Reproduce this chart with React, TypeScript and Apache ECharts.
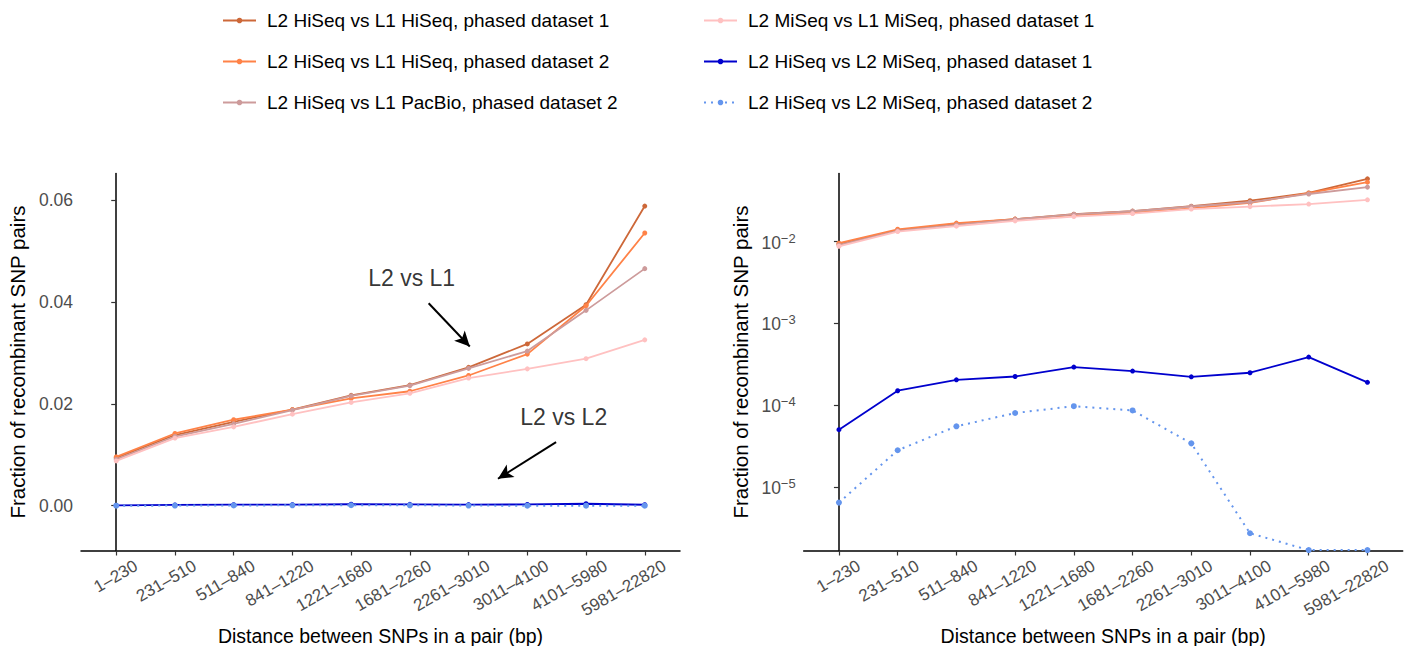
import React, { useEffect, useRef } from 'react';
import * as echarts from 'echarts';

// Distance bins between SNPs in a pair (bp)
const categories = [
  '1–230', '231–510', '511–840', '841–1220', '1221–1680',
  '1681–2260', '2261–3010', '3011–4100', '4101–5980', '5981–22820',
];

const seriesNames = [
  'L2 HiSeq vs L1 HiSeq, phased dataset 1',
  'L2 HiSeq vs L1 HiSeq, phased dataset 2',
  'L2 HiSeq vs L1 PacBio, phased dataset 2',
  'L2 MiSeq vs L1 MiSeq, phased dataset 1',
  'L2 HiSeq vs L2 MiSeq, phased dataset 1',
  'L2 HiSeq vs L2 MiSeq, phased dataset 2',
];

// Fraction of recombinant SNP pairs per bin
const hiseqL1HiseqD1 = [0.0094, 0.0139, 0.0165, 0.0189, 0.0217, 0.0237, 0.0272, 0.0318, 0.0395, 0.0589];
const hiseqL1HiseqD2 = [0.0096, 0.0142, 0.0169, 0.0189, 0.0211, 0.0225, 0.0256, 0.0298, 0.0393, 0.0536];
const hiseqL1PacbioD2 = [0.0091, 0.0136, 0.0161, 0.0188, 0.0216, 0.0236, 0.0270, 0.0304, 0.0384, 0.0466];
const miseqL1MiseqD1 = [0.0088, 0.0133, 0.0155, 0.0180, 0.0203, 0.0221, 0.0251, 0.0269, 0.0289, 0.0326];
const hiseqL2MiseqD1 = [5.0e-5, 1.5e-4, 2.04e-4, 2.24e-4, 2.92e-4, 2.61e-4, 2.22e-4, 2.49e-4, 3.87e-4, 1.9e-4];
const hiseqL2MiseqD2 = [6.4e-6, 2.8e-5, 5.5e-5, 8.0e-5, 9.7e-5, 8.6e-5, 3.4e-5, 2.7e-6, 1.68e-6, 1.68e-6];

const seriesValues = [
  hiseqL1HiseqD1, hiseqL1HiseqD2, hiseqL1PacbioD2,
  miseqL1MiseqD1, hiseqL2MiseqD1, hiseqL2MiseqD2,
];

const seriesColors = ['#CD6839', '#FF8247', '#CD9B9B', '#FFC1C1', '#0000CD', '#6495ED'];

// Tick values
const linearTicks = [0, 0.02, 0.04, 0.06];
const logTicks = [1e-5, 1e-4, 1e-3, 1e-2];

// Annotations on the linear panel (x in bin index, y in fraction)
const noteTexts = ['L2 vs L1', 'L2 vs L2'];
const notePositions = [[5.03, 0.0448], [7.62, 0.0174]];
const arrowStarts = [[5.32, 0.0398], [7.49, 0.0125]];
const arrowEnds = [[6.02, 0.0313], [6.5, 0.0053]];

const FONT = '"Liberation Sans", Arial, Helvetica, sans-serif';
const TICK_COLOR = '#4D4D4D';
// Rotated bin labels sit slightly to the right of their tick
const LABEL_SHIFT = 0.34;

function buildSeries(gridIdx: number) {
  return seriesValues.map((vals, k) => {
    const dotted = k === 5;
    return {
      type: 'line',
      name: seriesNames[k],
      xAxisIndex: gridIdx,
      yAxisIndex: gridIdx,
      data: vals.map((v, i) => [i, v]),
      symbol: 'circle',
      symbolSize: dotted ? 6 : 5,
      showSymbol: true,
      clip: true,
      color: seriesColors[k],
      lineStyle: {
        color: seriesColors[k],
        width: dotted ? 2 : 1.8,
        type: dotted ? [2, 5] : 'solid',
      },
      itemStyle: { color: seriesColors[k] },
      emphasis: { disabled: true },
      z: 2 + k,
    };
  });
}

function xAxisFor(gridIdx: number) {
  return {
    type: 'value',
    gridIndex: gridIdx,
    min: -0.6,
    max: 9.6,
    splitLine: { show: false },
    axisLine: { show: true, onZero: false, lineStyle: { color: '#000', width: 1.5 } },
    axisTick: {
      show: true,
      length: 5,
      customValues: categories.map((_, i) => i),
      lineStyle: { color: '#333', width: 1.2 },
    },
    axisLabel: {
      customValues: categories.map((_, i) => i + LABEL_SHIFT),
      formatter: (v: number) => categories[Math.round(v - LABEL_SHIFT)] ?? '',
      rotate: 30,
      margin: 14,
      fontSize: 17,
      color: TICK_COLOR,
      fontFamily: FONT,
    },
    name: 'Distance between SNPs in a pair (bp)',
    nameLocation: 'middle',
    nameGap: 69,
    nameTextStyle: { fontSize: 19.5, color: '#000', fontFamily: FONT },
  };
}

const yTitle = 'Fraction of recombinant SNP pairs';

export default function App() {
  const ref = useRef<HTMLDivElement>(null);

  useEffect(() => {
    if (!ref.current) return;
    const chart = echarts.init(ref.current, undefined, { renderer: 'svg' });

    const legendBase = {
      orient: 'vertical',
      top: 11,
      padding: 0,
      itemWidth: 33,
      itemHeight: 7,
      itemGap: 22,
      selectedMode: false,
      textStyle: { fontSize: 19, color: '#000', fontFamily: FONT, padding: [0, 0, 0, 6] },
    };

    const gridBase = { top: 173.5, width: 599, height: 377, containLabel: false, outerBoundsMode: 'none' };

    const options = {
      animation: false,
      backgroundColor: '#fff',
      textStyle: { fontFamily: FONT },
      legend: [
        { ...legendBase, left: 222, data: seriesNames.slice(0, 3) },
        { ...legendBase, left: 703, data: seriesNames.slice(3) },
      ],
      grid: [
        { ...gridBase, left: 81 },
        { ...gridBase, left: 803.7 },
      ],
      xAxis: [xAxisFor(0), xAxisFor(1)],
      yAxis: [
        {
          type: 'value',
          gridIndex: 0,
          min: -0.0088,
          max: 0.0653,
          splitLine: { show: false },
          axisLine: { show: true, lineStyle: { color: '#000', width: 1.5 } },
          axisTick: { show: true, length: 5, customValues: linearTicks, lineStyle: { color: '#333', width: 1.2 } },
          axisLabel: {
            customValues: linearTicks,
            formatter: (v: number) => v.toFixed(2),
            fontSize: 17.5,
            margin: 8,
            color: TICK_COLOR,
            fontFamily: FONT,
          },
          name: yTitle,
          nameLocation: 'middle',
          nameGap: 53,
          nameTextStyle: { fontSize: 20.5, color: '#000', fontFamily: FONT },
        },
        {
          type: 'log',
          logBase: 10,
          gridIndex: 1,
          min: 1.66e-6,
          max: 0.0684,
          splitLine: { show: false },
          axisLine: { show: true, lineStyle: { color: '#000', width: 1.5 } },
          axisTick: { show: true, length: 5, customValues: logTicks, lineStyle: { color: '#333', width: 1.2 } },
          axisLabel: {
            customValues: logTicks,
            formatter: (v: number) => `{b|10}{s|−${Math.round(-Math.log10(v))}}`,
            margin: 8,
            color: TICK_COLOR,
            fontFamily: FONT,
            rich: {
              b: { fontSize: 17.5, color: TICK_COLOR, fontFamily: FONT, verticalAlign: 'bottom' },
              s: { fontSize: 13, color: TICK_COLOR, fontFamily: FONT, verticalAlign: 'top', padding: [0, 0, 7, 0] },
            },
          },
          name: yTitle,
          nameLocation: 'middle',
          nameGap: 53,
          nameTextStyle: { fontSize: 20.5, color: '#000', fontFamily: FONT },
        },
      ],
      series: [
        ...buildSeries(0),
        ...buildSeries(1),
        {
          type: 'scatter',
          name: 'annotations',
          xAxisIndex: 0,
          yAxisIndex: 0,
          symbol: 'circle',
          symbolSize: 0.1,
          itemStyle: { color: 'rgba(0,0,0,0)' },
          silent: true,
          z: 20,
          data: noteTexts.map((t, i) => ({ name: t, value: notePositions[i] })),
          label: {
            show: true,
            position: 'inside',
            formatter: '{b}',
            fontSize: 23,
            color: '#000',
            fontFamily: FONT,
          },
          markLine: {
            silent: true,
            symbol: ['none', 'arrow'],
            symbolSize: [11, 15],
            label: { show: false },
            lineStyle: { color: '#000', width: 2, type: 'solid' },
            emphasis: { disabled: true },
            data: arrowStarts.map((s, i) => [{ coord: s }, { coord: arrowEnds[i] }]),
          },
        },
      ],
    };

    chart.setOption(options as any);
    return () => chart.dispose();
  }, []);

  return (
    <div
      ref={ref}
      style={{ position: 'fixed', left: 0, top: 0, width: 1407, height: 646, background: '#fff' }}
    />
  );
}
